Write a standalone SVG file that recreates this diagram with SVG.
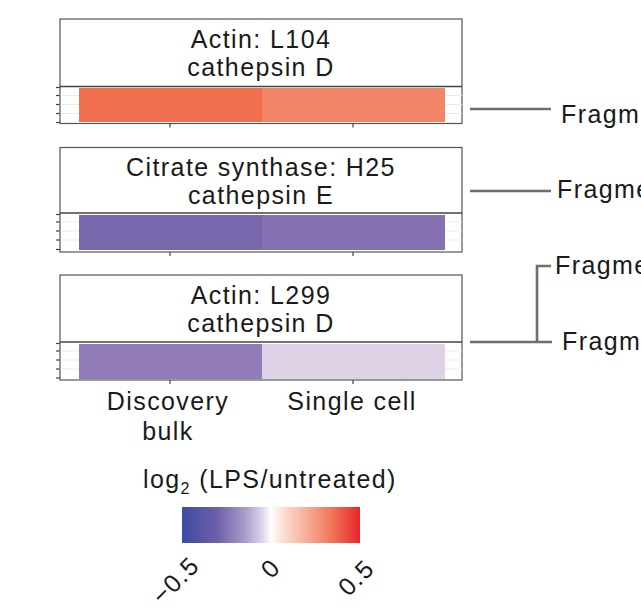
<svg xmlns="http://www.w3.org/2000/svg" width="641" height="611" viewBox="0 0 641 611">
<defs>
<style>
.t{font-family:"Liberation Sans",Arial,sans-serif;font-size:25px;letter-spacing:1.4px;fill:#1a1a1a}
.c{text-anchor:middle}
.frame{fill:#fff;stroke:#555;stroke-width:1.2}
.hdr{stroke:#444;stroke-width:1.6}
.grid{stroke:#e6e6e6;stroke-width:0.8}
.tick{stroke:#444;stroke-width:1.2}
.conn{stroke:#6e6e6e;stroke-width:2.6;fill:none}
</style>
<linearGradient id="cbar" x1="0" x2="1" y1="0" y2="0">
<stop offset="0" stop-color="#3d4aa0"/>
<stop offset="0.2" stop-color="#6e60aa"/>
<stop offset="0.35" stop-color="#a899c9"/>
<stop offset="0.45" stop-color="#dcd4ea"/>
<stop offset="0.5" stop-color="#ffffff"/>
<stop offset="0.56" stop-color="#fde2d8"/>
<stop offset="0.7" stop-color="#f7ae96"/>
<stop offset="0.85" stop-color="#f07158"/>
<stop offset="1" stop-color="#e8262a"/>
</linearGradient>
</defs>

<g id="panel1">
<rect class="frame" x="60" y="19" width="402" height="104.5"/>
<g class="grid"><line x1="60" y1="95.5" x2="462" y2="95.5"/><line x1="60" y1="104.5" x2="462" y2="104.5"/><line x1="60" y1="113.5" x2="462" y2="113.5"/></g>
<rect x="79" y="88" width="183" height="34" fill="#f07050"/>
<rect x="262" y="88" width="183" height="34" fill="#f28468"/>
<line class="hdr" x1="60" y1="86.5" x2="462" y2="86.5"/>
<g class="tick"><line x1="56" y1="87.5" x2="60" y2="87.5"/><line x1="56" y1="95.5" x2="60" y2="95.5"/><line x1="56" y1="104.5" x2="60" y2="104.5"/><line x1="56" y1="113.5" x2="60" y2="113.5"/><line x1="56" y1="122.5" x2="60" y2="122.5"/><line x1="170" y1="123.5" x2="170" y2="127.5"/><line x1="353" y1="123.5" x2="353" y2="127.5"/></g>
<text class="t c" x="261" y="47.5">Actin: L104</text>
<text class="t c" x="261" y="75.5">cathepsin D</text>
</g>

<g id="panel2">
<rect class="frame" x="60" y="147.5" width="402" height="104.5"/>
<g class="grid"><line x1="60" y1="222" x2="462" y2="222"/><line x1="60" y1="231" x2="462" y2="231"/><line x1="60" y1="240" x2="462" y2="240"/></g>
<rect x="79" y="215" width="183" height="35" fill="#7768ae"/>
<rect x="262" y="215" width="183" height="35" fill="#8571b2"/>
<line class="hdr" x1="60" y1="213" x2="462" y2="213"/>
<g class="tick"><line x1="56" y1="214.5" x2="60" y2="214.5"/><line x1="56" y1="222" x2="60" y2="222"/><line x1="56" y1="231" x2="60" y2="231"/><line x1="56" y1="240" x2="60" y2="240"/><line x1="56" y1="249.5" x2="60" y2="249.5"/><line x1="170" y1="252" x2="170" y2="256"/><line x1="353" y1="252" x2="353" y2="256"/></g>
<text class="t c" x="261" y="176">Citrate synthase: H25</text>
<text class="t c" x="261" y="204">cathepsin E</text>
</g>

<g id="panel3">
<rect class="frame" x="60" y="275" width="402" height="105"/>
<g class="grid"><line x1="60" y1="351" x2="462" y2="351"/><line x1="60" y1="360" x2="462" y2="360"/><line x1="60" y1="369" x2="462" y2="369"/></g>
<rect x="79" y="344" width="183" height="35" fill="#917cb9"/>
<rect x="262" y="344" width="183" height="35" fill="#ded2e6"/>
<line class="hdr" x1="60" y1="342" x2="462" y2="342"/>
<g class="tick"><line x1="56" y1="343.5" x2="60" y2="343.5"/><line x1="56" y1="351" x2="60" y2="351"/><line x1="56" y1="360" x2="60" y2="360"/><line x1="56" y1="369" x2="60" y2="369"/><line x1="56" y1="378" x2="60" y2="378"/><line x1="170" y1="380" x2="170" y2="384"/><line x1="353" y1="380" x2="353" y2="384"/></g>
<text class="t c" x="261" y="304">Actin: L299</text>
<text class="t c" x="261" y="332">cathepsin D</text>
</g>

<g id="axis-labels">
<text class="t c" x="168" y="410">Discovery</text>
<text class="t c" x="168" y="440">bulk</text>
<text class="t c" x="352" y="410">Single cell</text>
</g>

<g id="legend">
<text class="t" x="143" y="488">log<tspan font-size="16" dy="6">2</tspan><tspan dy="-6"> (LPS/untreated)</tspan></text>
<rect x="182" y="507" width="178" height="36" fill="url(#cbar)"/>
<text class="t" text-anchor="end" transform="translate(201,567) rotate(-45)">−0.5</text>
<text class="t" text-anchor="end" transform="translate(282,569) rotate(-45)">0</text>
<text class="t" text-anchor="end" transform="translate(376,570) rotate(-45)">0.5</text>
</g>

<g id="connectors">
<line class="conn" x1="470" y1="109" x2="551" y2="109"/>
<line class="conn" x1="470" y1="191" x2="551" y2="191"/>
<line class="conn" x1="470" y1="342" x2="552" y2="342"/>
<polyline class="conn" points="551,266 537,266 537,342"/>
</g>

<g id="fragments">
<text class="t" x="561" y="123">Fragm</text>
<text class="t" x="557" y="198">Fragme</text>
<text class="t" x="555" y="274">Fragme</text>
<text class="t" x="562" y="350">Fragm</text>
</g>
</svg>
